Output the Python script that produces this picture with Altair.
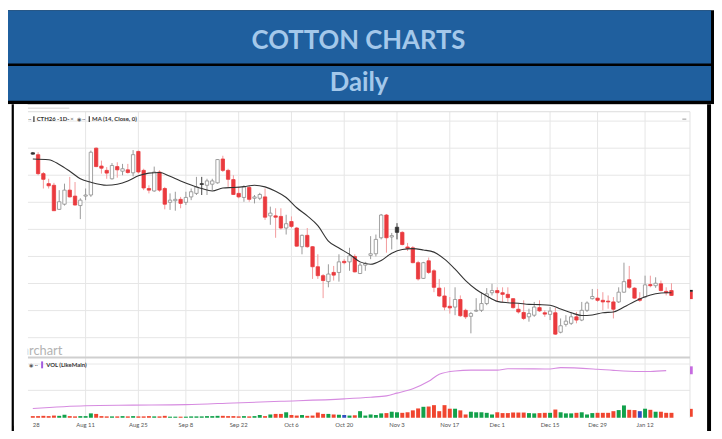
import altair as alt
import pandas as pd

# ---------------- data ----------------
# trading-day index 0 = Jul 28; candle style: d = down (red), u = up (hollow), k = black
kind = list("kdddduuddu" "uudddududu" "dddudduudu" "uukuuudddd" "uduududdud"
            "duddddudud" "uduuuuuduk" "dddduddddd" "udduuuuudd" "dddduuddud"
            "uuuduuuddd" "duudddudud" "dd")
open_ = [70.83,70.76,70.06,69.69,69.63,68.74,68.93,69.45,69.23,68.88,
         69.23,69.27,71.00,70.34,70.18,69.87,70.32,70.15,70.20,70.09,
         70.88,70.18,69.51,69.42,70.12,69.51,69.00,69.06,69.11,69.00,
         69.20,69.33,69.69,69.63,69.67,69.72,70.60,70.18,69.84,69.33,
         69.18,69.55,69.15,69.15,69.20,68.50,68.50,68.48,68.05,68.29,
         68.05,67.36,67.78,67.36,66.62,66.29,66.07,66.41,66.41,66.82,
         66.80,67.00,66.37,66.68,67.04,67.10,67.69,68.53,67.72,68.08,
         67.89,67.35,67.32,66.77,66.19,66.84,66.47,65.83,65.54,65.16,
         65.13,65.41,65.01,64.79,64.98,65.01,65.26,65.66,65.74,65.66,
         65.60,65.44,65.05,64.93,64.77,64.83,65.11,64.92,64.86,64.92,
         64.20,64.49,64.53,64.77,64.65,65.01,65.44,65.46,65.38,65.35,
         65.32,65.32,65.68,66.14,65.83,65.44,65.50,65.96,65.92,65.99,
         65.71,65.74]
high = [70.86,70.85,70.12,69.87,69.72,69.45,69.69,69.94,69.75,69.15,
        69.51,70.91,71.03,70.54,70.30,70.45,70.48,70.42,70.42,70.93,
        70.91,70.24,69.63,70.32,70.18,69.57,69.33,69.39,69.20,69.39,
        69.51,69.94,69.94,69.87,69.87,70.60,70.72,70.24,70.00,69.57,
        69.63,69.63,69.27,69.35,69.51,68.84,68.78,68.78,68.54,68.48,
        68.09,67.81,68.05,67.38,67.08,66.35,66.71,66.65,67.08,66.90,
        67.32,67.08,66.77,66.80,67.75,67.81,68.57,68.57,67.87,68.23,
        67.93,67.50,67.38,66.84,66.80,66.96,66.53,66.17,65.86,65.50,
        65.86,65.56,65.07,64.95,65.46,65.68,65.83,65.99,65.86,65.86,
        65.86,65.46,65.26,65.38,65.07,65.32,65.38,65.01,65.13,65.10,
        64.71,64.83,64.95,64.95,65.32,65.34,65.80,65.80,65.68,65.56,
        65.50,65.86,66.77,66.65,65.86,65.68,66.29,66.29,66.23,66.11,
        65.86,66.01]
low = [70.76,70.00,69.51,69.51,68.69,68.72,68.88,69.18,68.88,68.38,
       69.08,69.20,70.30,70.06,69.87,69.84,69.91,70.00,70.06,69.96,
       70.06,69.45,69.33,69.39,69.39,68.74,68.72,68.69,68.78,68.90,
       69.08,69.27,69.27,69.27,69.45,69.69,70.12,69.57,69.27,69.15,
       69.02,69.02,68.96,69.08,68.35,68.17,67.69,67.99,67.81,68.05,
       67.36,67.08,67.32,66.17,66.17,65.46,65.86,66.11,66.07,66.71,
       66.47,66.41,66.35,66.47,66.90,67.00,67.63,67.14,67.26,67.63,
       67.41,67.20,66.75,66.11,66.17,66.35,65.68,65.50,65.01,64.89,
       64.83,64.77,64.69,64.16,64.95,64.95,65.20,65.56,65.32,65.32,
       65.32,65.07,64.89,64.65,64.59,64.77,64.95,64.77,64.65,64.10,
       64.16,64.41,64.47,64.53,64.61,64.95,65.41,65.32,65.01,65.07,
       64.71,65.28,65.66,65.80,65.44,65.32,65.46,65.86,65.84,65.71,
       65.56,65.54]
close = [70.78,70.06,69.85,69.61,68.69,69.02,69.45,69.20,68.90,69.08,
         69.27,70.85,70.32,70.26,70.08,70.36,70.20,70.24,70.10,70.76,
         70.12,69.53,69.45,70.12,69.45,68.93,69.08,69.11,68.96,69.18,
         69.39,69.57,69.66,69.79,69.79,70.58,70.18,69.85,69.29,69.20,
         69.57,69.11,69.20,69.29,68.45,68.60,68.45,68.05,68.21,68.11,
         67.38,67.78,67.36,66.62,66.29,66.11,66.35,66.31,66.80,66.77,
         67.02,66.43,66.68,66.75,67.10,67.63,68.53,67.69,67.77,67.89,
         67.44,67.30,66.77,66.17,66.77,66.41,65.86,65.54,65.13,65.10,
         65.41,64.81,64.77,64.89,65.01,65.26,65.62,65.74,65.66,65.60,
         65.48,65.11,64.95,64.71,64.89,65.13,64.99,64.87,64.98,64.13,
         64.44,64.61,64.77,64.65,65.01,65.28,65.52,65.38,65.32,65.32,
         65.05,65.68,66.07,65.86,65.46,65.38,65.95,65.92,66.01,65.74,
         65.66,65.56]

# MA(14, Close)
ma_i = [0,3,5,7,9,11,14,16,18,20,22,24,26,28,30,32,34,36,38,40,42,44,46,48,50,52,54,56,58,60,
        62,64,66,68,70,72,74,76,78,80,82,84,86,88,90,92,94,96,98,100,102,104,106,108,110,112,114,116,118,120,121]
ma_v = [70.60,70.57,70.40,70.15,69.87,69.74,69.63,69.67,69.79,69.98,70.08,70.10,69.96,69.79,69.64,69.51,69.42,69.53,69.55,69.58,
        69.63,69.57,69.41,69.18,68.80,68.50,68.14,67.57,67.31,67.08,66.80,66.71,66.85,67.12,67.26,67.29,67.24,67.16,66.90,66.53,
        66.11,65.78,65.54,65.34,65.29,65.27,65.23,65.22,65.20,65.06,64.92,64.82,64.84,64.92,64.95,65.13,65.34,65.51,65.62,65.66,65.66]

# volume (thousand contracts) and bar colour: g = up, r = down, b = unchanged
vol = [6,6,7,6,8,7,11,6,5,6,
       6,16,14,6,5,5,5,6,5,6,
       5,5,6,5,5,7,4,4,4,4,
       5,5,5,6,6,7,7,6,6,5,
       6,5,6,10,6,12,14,14,20,10,
       8,10,7,8,19,14,14,12,11,10,
       8,9,24,8,12,10,16,17,22,20,
       18,20,27,34,40,41,46,24,46,33,
       33,27,12,22,20,20,18,12,20,17,
       17,19,19,19,17,16,17,18,18,30,
       20,16,16,18,20,12,17,18,18,18,
       24,28,45,29,28,24,33,29,22,22,
       18,18]
vcol = list("rrrrrggrrg" "ggrrrgrgrg" "rrrgrrggrg" "ggggggrrrr" "grggrgrrgr"
            "rgrrrrgrgb" "grgggggrgg" "rrrrgrrrrr" "grrgggggrr" "rrrrggrrgr"
            "gggrgggrrr" "rggrrbgrgr" "rr")
# second volume-panel series (thousand)
oi_i = [0,10,19,29,38,47,59,64,67,69,72,75,77,80,83,88,90,98,100,107,110,115,117,120]
oi_v = [34,44,46,48,54,60,69,75,80,90,106,133,159,171,174,174,179,178,183,177,173,169,169,172]

tick_i = [0,10,20,29,39,49,59,69,79,88,98,107,116]
tick_lbl = ["28","Aug 11","Aug 25","Sep 8","Sep 22","Oct 6","Oct 20","Nov 3","Nov 17","Dec 1","Dec 15","Dec 29","Jan 12"]
price_grid = [64,65,66,67,68,69,70,71,72]
vol_grid = [100]

# ---------------- styles ----------------
WICK = {"d": "#F39A9C", "u": "#9a9a9a", "k": "#444444"}
FILL = {"d": "#EA3A3E", "u": "#ffffff", "k": "#333333"}
STROKE = {"d": "#EA3A3E", "u": "#8c8c8c", "k": "#333333"}
VCOL = {"g": "#12A14B", "r": "#F0452F", "b": "#2F4FC0"}
BLUE = "#1F5F9E"
LBLUE = "#A4C8EA"

n = len(close)
cdf = pd.DataFrame({"i": list(range(n)), "o": open_, "h": high, "l": low, "c": close, "kind": kind[:n]})
cdf["top"] = cdf[["o", "c"]].max(axis=1)
cdf["bot"] = cdf[["o", "c"]].min(axis=1)
cdf["wick"] = cdf["kind"].map(WICK)
cdf["fill"] = cdf["kind"].map(FILL)
cdf["stroke"] = cdf["kind"].map(STROKE)
vdf = pd.DataFrame({"i": list(range(n)), "v": vol, "col": [VCOL[c] for c in vcol[:n]]})
madf = pd.DataFrame({"i": ma_i, "v": ma_v})
oidf = pd.DataFrame({"i": oi_i, "v": oi_v})
tdf = pd.DataFrame({"i": tick_i, "lbl": tick_lbl})
one = pd.DataFrame({"a": [0]})

XS = alt.Scale(domain=[0, 123.57], range=[20.1, 689.7], nice=False, zero=False)
PY = alt.Scale(domain=[64, 72], range=[331, 112], nice=False, zero=False)
VY = alt.Scale(domain=[0, 100], range=[412, 384.3], nice=False, zero=False)
X = lambda f="i": alt.X(f"{f}:Q", scale=XS, axis=None)
PYe = lambda f: alt.Y(f"{f}:Q", scale=PY, axis=None)
VYe = lambda f: alt.Y(f"{f}:Q", scale=VY, axis=None)


def rect(x1, y1, x2, y2, color, **kw):
    return alt.Chart(one).mark_rect(color=color, **kw).encode(
        x=alt.value(x1), x2=alt.value(x2), y=alt.value(y1), y2=alt.value(y2))


def hline(x1, x2, y, color, w=1):
    return alt.Chart(one).mark_rule(color=color, strokeWidth=w).encode(
        x=alt.value(x1), x2=alt.value(x2), y=alt.value(y))


def vline(x, y1, y2, color, w=1):
    return alt.Chart(one).mark_rule(color=color, strokeWidth=w).encode(
        x=alt.value(x), y=alt.value(y1), y2=alt.value(y2))


def label(txt, x, y, size, color, align="left", weight="normal", font="Lato", baseline="middle"):
    return alt.Chart(one).mark_text(text=txt, fontSize=size, color=color, align=align,
                                    fontWeight=weight, font=font, baseline=baseline).encode(
        x=alt.value(x), y=alt.value(y))


layers = [
    rect(0, 0, 714, 95, "black"),
    rect(0, 0, 711, 53.7, BLUE),
    rect(0, 56.3, 711, 91.3, BLUE),
    label("COTTON CHARTS", 354.5, 38.7, 26, LBLUE, align="center", weight="bold", baseline="alphabetic"),
    label("Daily", 355, 82, 26, LBLUE, align="center", weight="bold", baseline="alphabetic"),
    rect(0, 95, 714, 431, "white"),
    rect(3.7, 95, 711, 430.5, "black"),
    rect(6, 95, 707, 428, "white"),
]

layers += [
    alt.Chart(tdf[tdf.i > 0]).mark_rule(color="#e6e6e6", strokeWidth=1).encode(
        x=X(), y=alt.value(102.5), y2=alt.value(412)),
    alt.Chart(pd.DataFrame({"p": price_grid})).mark_rule(color="#e6e6e6", strokeWidth=1).encode(
        y=PYe("p"), x=alt.value(20.1), x2=alt.value(689.7)),
    alt.Chart(pd.DataFrame({"p": vol_grid})).mark_rule(color="#e6e6e6", strokeWidth=1).encode(
        y=VYe("p"), x=alt.value(20.1), x2=alt.value(689.7)),
    hline(20.1, 689.7, 102.5, "#dcdcdc"),
    hline(20.1, 62, 99, "#e2e2e2", 1.5),
    vline(689.7, 102.5, 412, "#e2e2e2"),
    hline(20.1, 689.7, 351, "#cfcfcf", 2),
    hline(20.1, 689.7, 357.7, "#e8e8e8"),
    label("barchart", 55, 349, 13, "#b3b3b3", align="right", baseline="alphabetic"),
]

layers += [
    alt.Chart(cdf).mark_rule(strokeWidth=1).encode(
        x=X(), y=PYe("l"), y2=alt.Y2("h"), color=alt.Color("wick:N", scale=None)),
    alt.Chart(cdf).mark_bar(size=3.4, strokeWidth=0.8).encode(
        x=X(), y=PYe("top"), y2=alt.Y2("bot"),
        fill=alt.Fill("fill:N", scale=None), stroke=alt.Stroke("stroke:N", scale=None)),
    alt.Chart(madf).mark_line(color="#333333", strokeWidth=1.1, interpolate="monotone").encode(
        x=X(), y=PYe("v")),
]

layers += [
    alt.Chart(vdf).mark_bar(size=4).encode(
        x=X(), y=VYe("v"), color=alt.Color("col:N", scale=None)),
    alt.Chart(oidf).mark_line(color="#D68BE0", strokeWidth=1.1, interpolate="monotone").encode(
        x=X(), y=VYe("v")),
]

layers += [
    rect(6, 95, 19.9, 420, "white"),
    alt.Chart(tdf[tdf.i > 0]).mark_text(fontSize=6, color="#555555", font="Lato").encode(
        x=X(), y=alt.value(419), text="lbl:N"),
    alt.Chart(tdf[tdf.i == 0]).mark_text(fontSize=6, color="#555555", font="Lato", align="left").encode(
        x=X(), y=alt.value(419), text="lbl:N"),
    label("··", 20.5, 110, 6, "#555555"),
    rect(25.6, 107, 26.8, 113, "#333333"),
    label("CTH26 -1D-", 29, 110, 6, "#333333", weight="bold"),
    label("×", 63, 110, 6, "#555555"),
    label("◉", 70, 110, 5, "#555555"),
    label("··", 75, 110, 6, "#555555"),
    rect(81.6, 107, 82.8, 113, "#333333"),
    label("MA (14, Close, 0)", 85, 110, 6, "#333333", weight="bold"),
    hline(682, 686, 110, "#999999"),
    label("◉", 21, 358.7, 5, "#555555"),
    label("··", 27, 358.7, 6, "#555555"),
    rect(33.5, 355, 35.5, 362, "#A35BE0"),
    label("VOL (LikeMain)", 38.7, 358.7, 6, "#333333", weight="bold"),
    rect(689.7, 282.7, 692.5, 284.7, "#222222"),
    rect(689.7, 284.7, 692.5, 292, "#EA3A3E"),
    rect(689.7, 360, 692.5, 368, "#C66BE0"),
    rect(689.7, 403, 692.5, 411, "#F0452F"),
]

chart = alt.layer(*layers).resolve_scale(y="independent").properties(
    width=714, height=423, padding=0, autosize=alt.AutoSizeParams(type="none")
).configure_view(stroke=None)

chart.save("out.html", embed_options={"renderer": "svg", "actions": False})
